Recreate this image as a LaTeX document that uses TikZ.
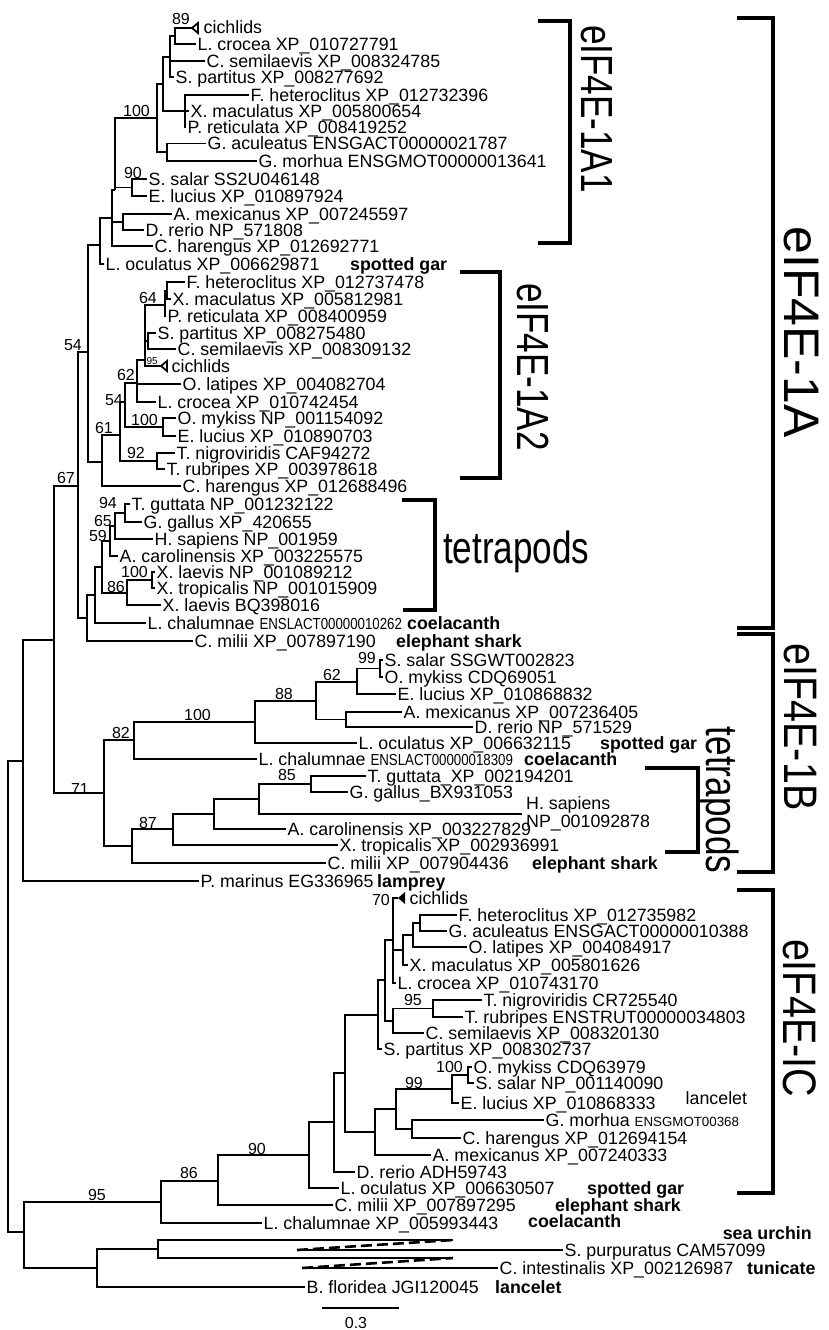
\documentclass[tikz,border=0pt]{standalone}
\usepackage{fontspec}
\setmainfont{Liberation Sans}
\newfontfamily\bigfam[FakeStretch=0.78]{Liberation Sans}
\newfontfamily\bigfamB[FakeStretch=0.84]{Liberation Sans}
\newfontfamily\idfam[FakeStretch=0.83]{Liberation Sans}
\newcommand\lblfont{\fontsize{17.8}{18}\selectfont}
\newcommand\bsfont{\fontsize{16}{16}\selectfont}
\newcommand\smfont{\fontsize{13.3}{14}\selectfont}
\newcommand\idfont{\idfam\fontsize{16}{16}\selectfont}
\newcommand\tinyfont{\fontsize{10}{10}\selectfont}
\newcommand\tleaf[4]{\coordinate (#1) at (#2,#3); \node[lab] (#1t) at (#2,#3) {#4};}
\newcommand\bsv[4]{\node[bsl] (#1) at (#2,#3) {#4};}
\begin{document}
\begin{tikzpicture}[x=1pt,y=-1pt,
  br/.style={line width=1.8pt},
  brd/.style={line width=2.6pt, dash pattern=on 11pt off 5pt},
  brk/.style={line width=4.5pt},
  lab/.style={anchor=base west, inner sep=0pt, xshift=1.5pt, yshift=-6.3pt, font=\lblfont},
  bold/.style={anchor=base west, inner sep=0pt, yshift=-6.3pt, font=\lblfont\bfseries},
  bsl/.style={anchor=base east, inner sep=0pt, font=\bsfont},
  big/.style={inner sep=0pt, font=\bigfam\fontsize{45}{45}\selectfont},
  bigB/.style={inner sep=0pt, font=\bigfamB\fontsize{47}{47}\selectfont},
  bigA/.style={inner sep=0pt, font=\fontsize{50}{50}\selectfont},
]
\useasboundingbox (0,0) rectangle (828,1330);
% ---------------- eIF4E-1A1 ----------------
\coordinate (a1) at (192,28);
\draw[br] (a1) -- ++(6,-5) -- ++(0,10) -- cycle;
\node[lab] (a1t) at (202,27) {cichlids};
\tleaf{a2}{196}{44}{L. crocea XP\_010727791}
\tleaf{a3}{205}{61}{C. semilaevis XP\_008324785}
\tleaf{a4}{174}{77}{S. partitus XP\_008277692}
\tleaf{a5}{249}{95}{F. heteroclitus XP\_012732396}
\tleaf{a6}{189}{111}{X. maculatus XP\_005800654}
\tleaf{a7}{186}{127.5}{P. reticulata XP\_008419252}
\tleaf{a8}{206}{143.5}{G. aculeatus ENSGACT00000021787}
\tleaf{a9}{257}{161}{G. morhua ENSGMOT00000013641}
\tleaf{a10}{147}{179}{S. salar SS2U046148}
\tleaf{a11}{147}{196}{E. lucius XP\_010897924}
\tleaf{a12}{172}{214}{A. mexicanus XP\_007245597}
\tleaf{a13}{144}{230}{D. rerio NP\_571808}
\tleaf{a14}{153}{246}{C. harengus XP\_012692771}
\tleaf{a15}{104}{264}{L. oculatus XP\_006629871}
\node[bold] (a15b) at (350,264) {spotted gar};
\coordinate (n89) at (175,36);
\coordinate (nA) at (170,57);
\coordinate (nX) at (185,111);
\coordinate (nB) at (163,84);
\coordinate (nG) at (167,152);
\coordinate (n100) at (157,118);
\coordinate (n90) at (132,187.5);
\coordinate (nAD) at (123,222);
\coordinate (n115) at (115,190);
\coordinate (T1A1) at (112,218);
\coordinate (n1A1) at (100,245);
% ---------------- eIF4E-1A2 ----------------
\tleaf{b1}{185}{282}{F. heteroclitus XP\_012737478}
\tleaf{b2}{171}{299}{X. maculatus XP\_005812981}
\tleaf{b3}{166}{316}{P. reticulata XP\_008400959}
\tleaf{b4}{156}{333}{S. partitus XP\_008275480}
\tleaf{b5}{176}{349}{C. semilaevis XP\_008309132}
\coordinate (b6) at (161,366);
\draw[br] (b6) -- ++(6,-5) -- ++(0,10) -- cycle;
\node[lab] (b6t) at (170,366) {cichlids};
\tleaf{b7}{181}{384}{O. latipes XP\_004082704}
\tleaf{b8}{156}{402}{L. crocea XP\_010742454}
\tleaf{b9}{176}{418}{O. mykiss NP\_001154092}
\tleaf{b10}{176}{436}{E. lucius XP\_010890703}
\tleaf{b11}{175}{453}{T. nigroviridis CAF94272}
\tleaf{b12}{165}{469}{T. rubripes XP\_003978618}
\tleaf{b13}{181}{486}{C. harengus XP\_012688496}
\coordinate (nFX) at (167,290.5);
\coordinate (n64) at (165,305);
\coordinate (nSP) at (148,341);
\coordinate (nS) at (145,360);
\coordinate (n62) at (137,383);
\coordinate (n100b) at (163,427);
\coordinate (n54b) at (125,402);
\coordinate (n92) at (157,461);
\coordinate (n61) at (120,435);
\coordinate (n1A2) at (102,462);
\coordinate (n54a) at (88,352);
% ---------------- tetrapods 1A ----------------
\tleaf{c1}{130}{504}{T. guttata NP\_001232122}
\tleaf{c2}{142}{522}{G. gallus XP\_420655}
\tleaf{c3}{153}{539}{H. sapiens NP\_001959}
\tleaf{c4}{118}{556}{A. carolinensis XP\_003225575}
\tleaf{c5}{155}{572}{X. laevis NP\_001089212}
\tleaf{c6}{155}{588}{X. tropicalis NP\_001015909}
\tleaf{c7}{161}{605}{X. laevis BQ398016}
\tleaf{c8}{146}{623}{L. chalumnae {\idfont ENSLACT00000010262}}
\node[bold] (c8b) at (407,623) {coelacanth};
\tleaf{c9}{193}{641}{C. milii XP\_007897190}
\node[bold] (c9b) at (396,641) {elephant shark};
\coordinate (n94) at (125,513);
\coordinate (n65) at (115,526);
\coordinate (n59) at (110,541);
\coordinate (n100x) at (152,580);
\coordinate (n86) at (127,593);
\coordinate (nTet) at (102,567);
\coordinate (nSar) at (95,595);
\coordinate (nGna) at (87,618);
\coordinate (n67) at (78,486);
% ---------------- eIF4E-1B ----------------
\tleaf{d1}{383}{660}{S. salar SSGWT002823}
\tleaf{d2}{383}{677}{O. mykiss CDQ69051}
\tleaf{d3}{396}{694}{E. lucius XP\_010868832}
\tleaf{d4}{402}{712}{A. mexicanus XP\_007236405}
\tleaf{d5}{473}{727}{D. rerio NP\_571529}
\tleaf{d6}{357}{743}{L. oculatus XP\_006632115}
\node[bold] (d6b) at (600,743) {spotted gar};
\tleaf{d7}{257}{759}{L. chalumnae {\idfont ENSLACT00000018309}}
\node[bold] (d7b) at (524,759) {coelacanth};
\tleaf{d8}{366}{776}{T. guttata\_XP\_002194201}
\tleaf{d9}{348}{792}{G. gallus\_BX931053}
\coordinate (d10) at (522,814);
\node[anchor=west, inner sep=0pt, xshift=4pt, align=left, font=\lblfont] (d10t) at (d10) {H. sapiens\\NP\_001092878};
\tleaf{d11}{286}{829}{A. carolinensis XP\_003227829}
\tleaf{d12}{338}{845}{X. tropicalis XP\_002936991}
\tleaf{d13}{326}{863}{C. milii XP\_007904436}
\node[bold] (d13b) at (532,863) {elephant shark};
\tleaf{e1}{199}{881}{P. marinus EG336965}
\node[bold] (e1b) at (377,881) {lamprey};
\coordinate (n99b) at (380,668.5);
\coordinate (n62b) at (357,682);
\coordinate (nAD2) at (346,719.5);
\coordinate (n88b) at (316,701);
\coordinate (n100c) at (255,722);
\coordinate (n82) at (134,740);
\coordinate (n85) at (311,784);
\coordinate (nAmn) at (259,799);
\coordinate (nRep) at (214,814);
\coordinate (n87) at (173,829);
\coordinate (nT2) at (132,846);
\coordinate (n71) at (104,793);
\coordinate (n50) at (54,640);
\coordinate (n22) at (23,761);
% ---------------- eIF4E-1C ----------------
\coordinate (f1) at (398,898);
\fill (f1) -- ++(7,-6) -- ++(0,12) -- cycle;
\node[lab] (f1t) at (408,898) {cichlids};
\tleaf{f2}{457}{915}{F. heteroclitus XP\_012735982}
\tleaf{f3}{447}{931}{G. aculeatus ENSGACT00000010388}
\tleaf{f4}{467}{947}{O. latipes XP\_004084917}
\tleaf{f5}{408}{965}{X. maculatus XP\_005801626}
\tleaf{f6}{396}{983}{L. crocea XP\_010743170}
\tleaf{f7}{482}{1000}{T. nigroviridis CR725540}
\tleaf{f8}{463}{1017}{T. rubripes ENSTRUT00000034803}
\tleaf{f9}{424}{1033}{C. semilaevis XP\_008320130}
\tleaf{f10}{382}{1049}{S. partitus XP\_008302737}
\tleaf{f11}{472}{1067}{O. mykiss CDQ63979}
\tleaf{f12}{474}{1083}{S. salar NP\_001140090}
\tleaf{f13}{459}{1103}{E. lucius XP\_010868333}
\tleaf{f14}{544}{1120}{G. morhua {\smfont ENSGMOT00368}}
\tleaf{f15}{461}{1138}{C. harengus XP\_012694154}
\tleaf{f16}{431}{1155}{A. mexicanus XP\_007240333}
\tleaf{f17}{355}{1172}{D. rerio ADH59743}
\tleaf{f18}{339}{1188}{L. oculatus XP\_006630507}
\node[bold] (f18b) at (587,1188) {spotted gar};
\tleaf{f19}{333}{1205}{C. milii XP\_007897295}
\node[bold] (f19b) at (555,1205) {elephant shark};
\tleaf{f20}{262}{1223}{L. chalumnae XP\_005993443}
\node[bold] (f20b) at (528,1221) {coelacanth};
\node[lab] (lanc) at (684,1098) {lancelet};
\coordinate (nFG) at (420,923);
\coordinate (nFGO) at (413,935);
\coordinate (nFGOX) at (403,950);
\coordinate (nC1) at (393,940);
\coordinate (n95c) at (433,1008.5);
\coordinate (nTC) at (393,1021);
\coordinate (nP) at (385,980);
\coordinate (nPerc) at (378,1015);
\coordinate (n100IC) at (468,1075);
\coordinate (nSal) at (452,1089);
\coordinate (nGC) at (412,1129);
\coordinate (n99IC) at (396,1109);
\coordinate (nAM) at (375,1132);
\coordinate (nEut) at (345,1073);
\coordinate (nOt) at (334,1122);
\coordinate (nAct) at (309,1155);
\coordinate (n86IC) at (218,1181);
\coordinate (n95IC) at (161,1202);
% ---------------- outgroups ----------------
\coordinate (g1s) at (453,1240);
\coordinate (g1a) at (297,1250);
\coordinate (g1) at (563,1250);
\coordinate (g2s) at (453,1258);
\coordinate (g2a) at (302,1268);
\coordinate (g2) at (498,1268);
\draw[br] (g1a) -- (g1);
\draw[br] (g2a) -- (g2);
\draw[brd] (g1a) -- (g1s);
\draw[brd] (g2a) -- (g2s);
\node[lab] (g1t) at (g1) {S. purpuratus CAM57099};
\node[lab] (g2t) at (g2) {C. intestinalis XP\_002126987};
\node[bold, anchor=base east] (g1b) at (812,1233) {sea urchin};
\node[bold] (g2b) at (747,1268) {tunicate};
\tleaf{g3}{305}{1287}{B. floridea JGI120045}
\node[bold] (g3b) at (495,1287) {lancelet};
\coordinate (nUT) at (158,1249);
\coordinate (nOut) at (97,1268);
\coordinate (n24) at (24,1232);
\coordinate (root) at (8,996);
% ---------------- branches ----------------
\foreach \p/\c in {n89/a1, n89/a2, nA/n89, nA/a3, nA/a4, nX/a5, nX/a6, nX/a7, nB/nA, nB/nX, nG/a8, nG/a9, n100/nB, n100/nG, n90/a10, n90/a11, nAD/a12, nAD/a13, n115/n100, n115/n90, T1A1/n115, T1A1/nAD, T1A1/a14, n1A1/T1A1, n1A1/a15,
 nFX/b1, nFX/b2, n64/nFX, n64/b3, nSP/b4, nSP/b5, nS/n64, nS/nSP, nS/b6, n62/nS, n62/b7, n62/b8, n100b/b9, n100b/b10, n54b/n62, n54b/n100b, n92/b11, n92/b12, n61/n54b, n61/n92, n1A2/n61, n1A2/b13, n54a/n1A1, n54a/n1A2,
 n94/c1, n94/c2, n65/n94, n65/c3, n59/n65, n59/c4, n100x/c5, n100x/c6, n86/n100x, n86/c7, nTet/n59, nTet/n86, nSar/nTet, nSar/c8, nGna/nSar, nGna/c9, n67/n54a, n67/nGna,
 n99b/d1, n99b/d2, n62b/n99b, n62b/d3, nAD2/d4, nAD2/d5, n88b/n62b, n88b/nAD2, n100c/n88b, n100c/d6, n82/n100c, n82/d7, n85/d8, n85/d9, nAmn/n85, nAmn/d10, nRep/nAmn, nRep/d11, n87/nRep, n87/d12, nT2/n87, nT2/d13, n71/n82, n71/nT2, n50/n67, n50/n71, n22/n50, n22/e1,
 nFG/f2, nFG/f3, nFGO/nFG, nFGO/f4, nFGOX/nFGO, nFGOX/f5, nC1/f1, nC1/nFGOX, nC1/f6, n95c/f7, n95c/f8, nTC/n95c, nTC/f9, nP/nC1, nP/nTC, nPerc/nP, nPerc/f10, n100IC/f11, n100IC/f12, nSal/n100IC, nSal/f13, nGC/f14, nGC/f15, n99IC/nSal, n99IC/nGC, nAM/n99IC, nAM/f16, nEut/nPerc, nEut/nAM, nOt/nEut, nOt/f17, nAct/nOt, nAct/f18, n86IC/nAct, n86IC/f19, n95IC/n86IC, n95IC/f20,
 nUT/g1s, nUT/g2s, nOut/nUT, nOut/g3, n24/n95IC, n24/nOut, root/n22, root/n24}
 \draw[br] (\p) |- (\c);
% ---------------- bootstrap values ----------------
\bsv{s89}{190}{25}{89}
\bsv{s100a}{150}{116}{100}
\bsv{s90a}{142}{178}{90}
\bsv{s64}{157}{303}{64}
\bsv{s62a}{135}{380}{62}
\node[bsl, font=\tinyfont] (s95a) at (158,364) {95};
\bsv{s54b}{123}{405}{54}
\bsv{s100b}{158}{425}{100}
\bsv{s61}{113}{433}{61}
\bsv{s92}{145}{458}{92}
\bsv{s54a}{82}{350}{54}
\bsv{s67}{75}{483}{67}
\bsv{s94}{117}{508}{94}
\bsv{s65}{112}{526}{65}
\bsv{s59}{107}{541}{59}
\bsv{s100x}{148}{577}{100}
\bsv{s86x}{125}{592}{86}
\bsv{s99b}{376}{663}{99}
\bsv{s62b}{341}{680}{62}
\bsv{s88}{293}{699}{88}
\bsv{s100c}{211}{720}{100}
\bsv{s82}{130}{738}{82}
\bsv{s85}{296}{780}{85}
\bsv{s71}{89}{794}{71}
\bsv{s87}{157}{828}{87}
\bsv{s70}{390}{905}{70}
\bsv{s95c}{422}{1005}{95}
\bsv{s100d}{463}{1072}{100}
\bsv{s99d}{423}{1088}{99}
\bsv{s90d}{266}{1154}{90}
\bsv{s86d}{198}{1178}{86}
\bsv{s95d}{106}{1200}{95}
% ---------------- scale bar ----------------
\coordinate (sb1) at (322,1308);
\coordinate (sb2) at (399,1308);
\draw[br] (sb1) -- (sb2);
\node[font=\bsfont, inner sep=0pt] (sbl) at (356,1323) {0.3};
% ---------------- clade brackets ----------------
\coordinate (k1a) at (538,21); \coordinate (k1b) at (570,21);
\coordinate (k1c) at (570,243); \coordinate (k1d) at (538,243);
\draw[brk] (k1a) -- (k1b) -- (k1c) -- (k1d);
\node[big, rotate=-90] (L1A1) at (597,109) {eIF4E-1A1};
\coordinate (k2a) at (460,272); \coordinate (k2b) at (500,272);
\coordinate (k2c) at (500,478); \coordinate (k2d) at (460,478);
\draw[brk] (k2a) -- (k2b) -- (k2c) -- (k2d);
\node[big, rotate=-90] (L1A2) at (533,367) {eIF4E-1A2};
\coordinate (k3a) at (402,500); \coordinate (k3b) at (435,500);
\coordinate (k3c) at (435,610); \coordinate (k3d) at (403,610);
\draw[brk] (k3a) -- (k3b) -- (k3c) -- (k3d);
\node[big, anchor=base west] (Ltet) at (443,563) {tetrapods};
\coordinate (k4a) at (737,18); \coordinate (k4b) at (773,18);
\coordinate (k4c) at (773,628); \coordinate (k4d) at (737,628);
\draw[brk] (k4a) -- (k4b) -- (k4c) -- (k4d);
\node[bigA, rotate=-90] (L1A) at (801,332) {eIF4E-1A};
\coordinate (k5a) at (737,634); \coordinate (k5b) at (773,634);
\coordinate (k5c) at (773,872); \coordinate (k5d) at (737,872);
\draw[brk] (k5a) -- (k5b) -- (k5c) -- (k5d);
\node[bigB, rotate=-90] (L1B) at (800,727) {eIF4E-1B};
\coordinate (k6a) at (645,768); \coordinate (k6b) at (698,768);
\coordinate (k6c) at (698,852); \coordinate (k6d) at (665,852);
\draw[brk] (k6a) -- (k6b) -- (k6c) -- (k6d);
\node[big, rotate=-90] (Ltet2) at (718,800) {tetrapods};
\coordinate (k7a) at (737,890); \coordinate (k7b) at (773,890);
\coordinate (k7c) at (773,1193); \coordinate (k7d) at (737,1193);
\draw[brk] (k7a) -- (k7b) -- (k7c) -- (k7d);
\node[bigB, rotate=-90] (L1C) at (800,1018) {eIF4E-IC};
\end{tikzpicture}
\end{document}
